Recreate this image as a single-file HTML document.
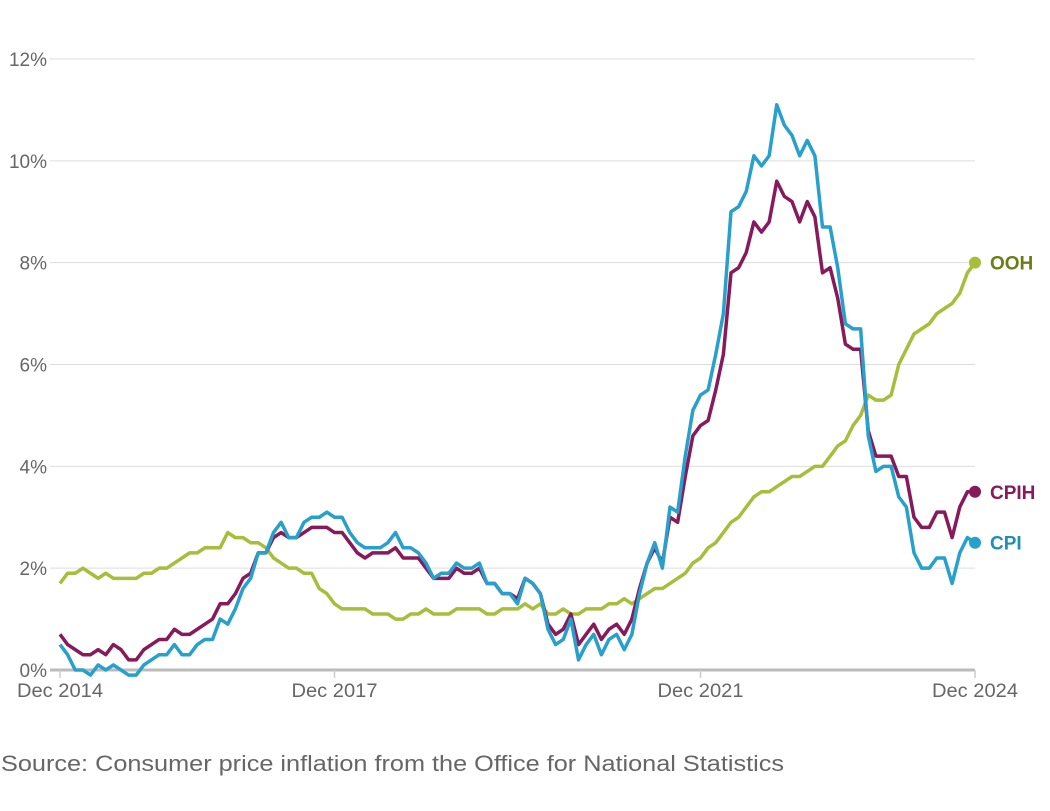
<!DOCTYPE html>
<html><head><meta charset="utf-8"><style>
body{margin:0;background:#fff;width:1050px;height:806px;overflow:hidden}
svg text{font-family:"Liberation Sans",sans-serif}
</style></head><body>
<svg id="chart" width="1050" height="806" xmlns="http://www.w3.org/2000/svg">
<g id="grid"></g>
<g id="yl"></g>
<g id="xl"></g>
<g id="lines"></g>
<text x="1" y="771" font-size="22" fill="#666" textLength="783" lengthAdjust="spacingAndGlyphs">Source: Consumer price inflation from the Office for National Statistics</text>
</svg>
<script>
const yTicks=[0,2,4,6,8,10,12];
const xTickLabels=["Dec 2014","Dec 2017","Dec 2021","Dec 2024"];
const xTickMonths=[0,36,84,120];
const cpi=[0.5,
0.3,0.0,0.0,-0.1,0.1,0.0,0.1,0.0,-0.1,-0.1,0.1,0.2,
0.3,0.3,0.5,0.3,0.3,0.5,0.6,0.6,1.0,0.9,1.2,1.6,
1.8,2.3,2.3,2.7,2.9,2.6,2.6,2.9,3.0,3.0,3.1,3.0,
3.0,2.7,2.5,2.4,2.4,2.4,2.5,2.7,2.4,2.4,2.3,2.1,
1.8,1.9,1.9,2.1,2.0,2.0,2.1,1.7,1.7,1.5,1.5,1.3,
1.8,1.7,1.5,0.8,0.5,0.6,1.0,0.2,0.5,0.7,0.3,0.6,
0.7,0.4,0.7,1.5,2.1,2.5,2.0,3.2,3.1,4.2,5.1,5.4,
5.5,6.2,7.0,9.0,9.1,9.4,10.1,9.9,10.1,11.1,10.7,10.5,
10.1,10.4,10.1,8.7,8.7,7.9,6.8,6.7,6.7,4.6,3.9,4.0,
4.0,3.4,3.2,2.3,2.0,2.0,2.2,2.2,1.7,2.3,2.6,2.5];
const cpih=[0.7,
0.5,0.4,0.3,0.3,0.4,0.3,0.5,0.4,0.2,0.2,0.4,0.5,
0.6,0.6,0.8,0.7,0.7,0.8,0.9,1.0,1.3,1.3,1.5,1.8,
1.9,2.3,2.3,2.6,2.7,2.6,2.6,2.7,2.8,2.8,2.8,2.7,
2.7,2.5,2.3,2.2,2.3,2.3,2.3,2.4,2.2,2.2,2.2,2.0,
1.8,1.8,1.8,2.0,1.9,1.9,2.0,1.7,1.7,1.5,1.5,1.4,
1.8,1.7,1.5,0.9,0.7,0.8,1.1,0.5,0.7,0.9,0.6,0.8,
0.9,0.7,1.0,1.6,2.1,2.4,2.1,3.0,2.9,3.8,4.6,4.8,
4.9,5.5,6.2,7.8,7.9,8.2,8.8,8.6,8.8,9.6,9.3,9.2,
8.8,9.2,8.9,7.8,7.9,7.3,6.4,6.3,6.3,4.7,4.2,4.2,
4.2,3.8,3.8,3.0,2.8,2.8,3.1,3.1,2.6,3.2,3.5,3.5];
const ooh=[1.7,
1.9,1.9,2.0,1.9,1.8,1.9,1.8,1.8,1.8,1.8,1.9,1.9,
2.0,2.0,2.1,2.2,2.3,2.3,2.4,2.4,2.4,2.7,2.6,2.6,
2.5,2.5,2.4,2.2,2.1,2.0,2.0,1.9,1.9,1.6,1.5,1.3,
1.2,1.2,1.2,1.2,1.1,1.1,1.1,1.0,1.0,1.1,1.1,1.2,
1.1,1.1,1.1,1.2,1.2,1.2,1.2,1.1,1.1,1.2,1.2,1.2,
1.3,1.2,1.3,1.1,1.1,1.2,1.1,1.1,1.2,1.2,1.2,1.3,
1.3,1.4,1.3,1.4,1.5,1.6,1.6,1.7,1.8,1.9,2.1,2.2,
2.4,2.5,2.7,2.9,3.0,3.2,3.4,3.5,3.5,3.6,3.7,3.8,
3.8,3.9,4.0,4.0,4.2,4.4,4.5,4.8,5.0,5.4,5.3,5.3,
5.4,6.0,6.3,6.6,6.7,6.8,7.0,7.1,7.2,7.4,7.8,8.0];
const NS="http://www.w3.org/2000/svg";
const X=m=>60+m*(915/120), Y=v=>670-v*(611/12);
function mk(t,a,p){const e=document.createElementNS(NS,t);for(const k in a)e.setAttribute(k,a[k]);p.appendChild(e);return e;}
const grid=document.getElementById('grid'),yl=document.getElementById('yl'),xl=document.getElementById('xl'),lines=document.getElementById('lines');
yTicks.forEach(v=>{
  if(v>0){const l=mk('line',{x1:50,x2:975,y1:Y(v),y2:Y(v),stroke:'#ddd','stroke-width':1},grid);
  
  }
  const t=mk('text',{x:47,y:Y(v)+7,'text-anchor':'end','font-size':19,fill:'#666'},yl);t.textContent=v+'%';
  
  
});
const base=mk('line',{x1:50,x2:975,y1:670,y2:670,stroke:'#bbb','stroke-width':3},xl);


xTickMonths.forEach((m,i)=>{
  const tk=mk('line',{x1:X(m),x2:X(m),y1:670,y2:678,stroke:'#ccc','stroke-width':1.5},xl);
  
  
  const t=mk('text',{x:X(m),y:697,'text-anchor':'middle','font-size':19,fill:'#666',textLength:86,lengthAdjust:'spacingAndGlyphs'},xl);t.textContent=xTickLabels[i];
  
  
});
const series=[[ooh,'#a8bd3a','#6b7d16','OOH'],[cpih,'#871a5b','#871a5b','CPIH'],[cpi,'#27a0cc','#1f8fb8','CPI']];
series.forEach(([d,c,lc,n])=>{
  const p=mk('polyline',{points:d.map((v,i)=>X(i)+','+Y(v)).join(' '),fill:'none',stroke:c,'stroke-width':3.5,'stroke-linejoin':'round'},lines);
  
  
  const last=d.length-1;
  const dot=mk('circle',{cx:X(last),cy:Y(d[last]),r:6,fill:c},lines);
  
  
  const t=mk('text',{x:990,y:Y(d[last])+7,'font-size':19,'font-weight':'bold',fill:lc},lines);t.textContent=n;
  
  
});
</script>
</body></html>
